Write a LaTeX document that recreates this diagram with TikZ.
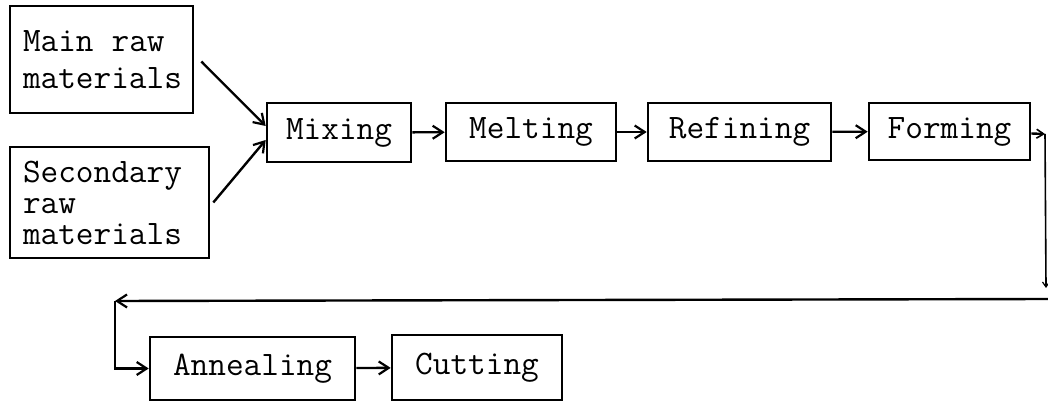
\documentclass[tikz,border=0pt]{standalone}
\usepackage{fontspec}
\usetikzlibrary{arrows.meta}
\begin{document}
\begin{tikzpicture}[x=1pt,y=-1pt,
  box/.style={draw,line width=2.6pt,inner sep=0pt,align=center,font=\ttfamily\fontsize{34.3}{31}\selectfont},
  arr/.style={line width=2.4pt,-{Straight Barb[length=10pt,width=13pt,line width=2.2pt]}},
  thin/.style={line width=1.6pt}]
\useasboundingbox (0,0) rectangle (1048,403);
\node[box,minimum width=183pt,minimum height=107pt] (main) at (101.5,59.5)
  {\raisebox{7pt}{\parbox{157pt}{\raggedright Main\hspace{18pt}raw\\[6pt]materials}}};
\node[box,minimum width=199pt,minimum height=111pt] (sec) at (109.5,202.5)
  {\raisebox{3.5pt}{\parbox{173pt}{\raggedright Secondary\\raw\\materials}}};
\node[box,minimum width=144pt,minimum height=59pt] (mix) at (339,132.5) {Mixing};
\node[box,minimum width=170pt,minimum height=58pt] (melt) at (531,132) {Melting};
\node[box,minimum width=183pt,minimum height=58pt] (ref) at (739.5,132) {Refining};
\node[box,minimum width=161pt,minimum height=57pt] (form) at (949.5,131.5) {Forming};
\node[box,minimum width=205pt,minimum height=63pt] (ann) at (252.5,368.5) {Annealing};
\node[box,minimum width=170pt,minimum height=65pt] (cut) at (477,367.5) {Cutting};
\coordinate (f1) at (1045,134);
\coordinate (f2) at (1046,288);
\coordinate (r1) at (1048,299);
\coordinate (l1) at (115,301);
\draw[arr] ([xshift=7pt,yshift=-2pt]main.east) -- ([yshift=6.5pt]mix.west);
\draw[arr] ([xshift=3pt]sec.east) -- ([yshift=-7.5pt]mix.west);
\draw[arr] (mix) -- (melt);
\draw[arr] (melt) -- (ref);
\draw[arr] (ref) -- (form);
\draw[arr,-{Straight Barb[length=7pt,width=9pt,line width=1.6pt]}] ([yshift=-2pt]form.east) -- (f1);
\draw[thin,-{Straight Barb[length=5pt,width=7pt,line width=1.2pt]}] (f1) -- (f2);
\draw[arr] (r1) -- (l1);
\draw[arr] (l1) |- (ann.west);
\draw[arr] (ann) -- (cut);
\end{tikzpicture}
\end{document}
